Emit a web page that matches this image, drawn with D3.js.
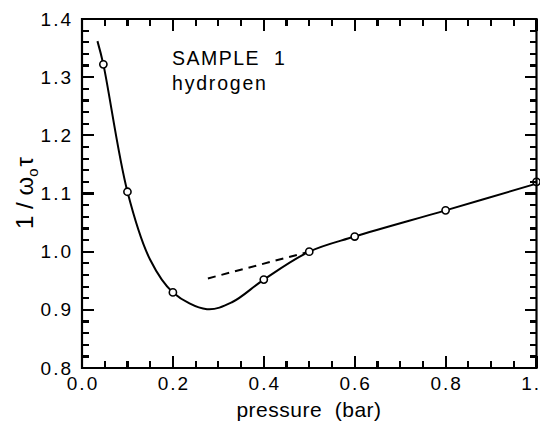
<!DOCTYPE html>
<html>
<head>
<meta charset="utf-8">
<script src="https://cdn.jsdelivr.net/npm/d3@7"></script>
<style>
  body { margin: 0; background: #fff; }
  svg text { font-family: "Liberation Sans", Arial, sans-serif; fill: #000; }
</style>
</head>
<body>
<svg width="540" height="425"></svg>
<script>
// **** Data
const pointPressure = [0.047, 0.1, 0.2, 0.4, 0.5, 0.6, 0.8, 1.0];
const pointValue = [1.322, 1.103, 0.93, 0.952, 1.0, 1.026, 1.071, 1.12];

// smooth fit line drawn through the points
const curvePressure = [0.034, 0.047, 0.1, 0.15, 0.2, 0.275, 0.33, 0.4, 0.5, 0.6, 0.8, 1.0];
const curveValue = [1.362, 1.322, 1.103, 0.986, 0.93, 0.901, 0.913, 0.952, 1.0, 1.026, 1.071, 1.117];

// dashed extrapolation of the linear part
const dashPressure = [0.277, 0.5];
const dashValue = [0.954, 1.0];

const xTicks = [0, 0.2, 0.4, 0.6, 0.8, 1.0];
const yTicks = [0.8, 0.9, 1.0, 1.1, 1.2, 1.3, 1.4];
const xMinor = [0, 0.05, 0.1, 0.15, 0.2, 0.25, 0.3, 0.35, 0.4, 0.45, 0.5, 0.55, 0.6, 0.65, 0.7, 0.75, 0.8, 0.85, 0.9, 0.95, 1.0];
const yMinor = [0.8, 0.82, 0.84, 0.86, 0.88, 0.9, 0.92, 0.94, 0.96, 0.98, 1.0, 1.02, 1.04, 1.06, 1.08, 1.1,
  1.12, 1.14, 1.16, 1.18, 1.2, 1.22, 1.24, 1.26, 1.28, 1.3, 1.32, 1.34, 1.36, 1.38, 1.4];

const svg = d3.select("svg");
const mLeft = 82, mRight = 536.5, mTop = 19, mBottom = 368;

// **** Scales
const x = d3.scaleLinear().domain([0, 1]).range([mLeft, mRight]);
const y = d3.scaleLinear().domain([0.8, 1.4]).range([mBottom, mTop]);

// **** Tick labels
svg.append("g").selectAll("text").data(xTicks).join("text")
  .attr("x", d => x(d) + 1).attr("y", 390)
  .attr("text-anchor", "middle").attr("font-size", 19)
  .attr("letter-spacing", 2)
  .text(d => d.toFixed(1));

svg.append("g").selectAll("text").data(yTicks).join("text")
  .attr("x", 73).attr("y", d => y(d) + 6.5)
  .attr("text-anchor", "end").attr("font-size", 19)
  .attr("letter-spacing", 2)
  .text(d => d.toFixed(1));

// **** Axis titles
svg.append("text")
  .attr("x", 309).attr("y", 417)
  .attr("text-anchor", "middle").attr("font-size", 21)
  .attr("letter-spacing", 0.5)
  .attr("xml:space", "preserve")
  .text("pressure  (bar)");

const ylab = svg.append("text")
  .attr("transform", "translate(33,193) rotate(-90)")
  .attr("text-anchor", "middle").attr("font-size", 24);
ylab.append("tspan").text("1 / ");
ylab.append("tspan").text("ω");
ylab.append("tspan").attr("font-size", 15).attr("dy", 5).text("o");
ylab.append("tspan").attr("dy", -5).attr("dx", 2).text("τ");

// **** Annotation
svg.append("text").attr("x", 172).attr("y", 65).attr("font-size", 19.5)
  .attr("letter-spacing", 1.5).attr("xml:space", "preserve").text("SAMPLE  1");
svg.append("text").attr("x", 172).attr("y", 90).attr("font-size", 19.5)
  .attr("letter-spacing", 1.8).text("hydrogen");

// **** Lines
const curve = curvePressure.map((p, i) => [p, curveValue[i]]);
const line = d3.line().x(d => x(d[0])).y(d => y(d[1])).curve(d3.curveCatmullRom.alpha(0.5));

svg.append("path")
  .attr("d", line(curve))
  .attr("fill", "none").attr("stroke", "#000").attr("stroke-width", 2);

const dash = dashPressure.map((p, i) => [p, dashValue[i]]);
svg.append("path")
  .attr("d", d3.line().x(d => x(d[0])).y(d => y(d[1]))(dash))
  .attr("fill", "none").attr("stroke", "#000").attr("stroke-width", 2)
  .attr("stroke-dasharray", "8,6");

// **** Points
svg.append("g").selectAll("circle").data(pointPressure).join("circle")
  .attr("cx", d => x(d))
  .attr("cy", (d, i) => y(pointValue[i]))
  .attr("r", 3.6)
  .attr("fill", "#fff").attr("stroke", "#000").attr("stroke-width", 1.6);

// **** Frame and tick marks, drawn last so they sit on top
svg.append("path")
  .attr("d", `M${mLeft},${mTop}H${mRight}V${mBottom}H${mLeft}Z`)
  .attr("fill", "none").attr("stroke", "#000").attr("stroke-width", 2.2);

const xMajor = v => Math.abs(v * 5 - Math.round(v * 5)) < 1e-6;
const yMajor = v => Math.abs(v * 10 - Math.round(v * 10)) < 1e-6;

let tickD = "";
xMinor.forEach(v => {
  const len = xMajor(v) ? 12 : 7;
  const px = x(v).toFixed(1);
  tickD += `M${px},${mBottom}V${mBottom - len}M${px},${mTop}V${mTop + len}`;
});
yMinor.forEach(v => {
  const len = yMajor(v) ? 12 : 7;
  const py = y(v).toFixed(1);
  tickD += `M${mLeft},${py}H${mLeft + len}M${mRight},${py}H${mRight - len}`;
});
svg.append("path")
  .attr("d", tickD)
  .attr("fill", "none")
  .attr("stroke", "#000")
  .attr("stroke-width", 2.2)
  .attr("shape-rendering", "crispEdges");
</script>
</body>
</html>
